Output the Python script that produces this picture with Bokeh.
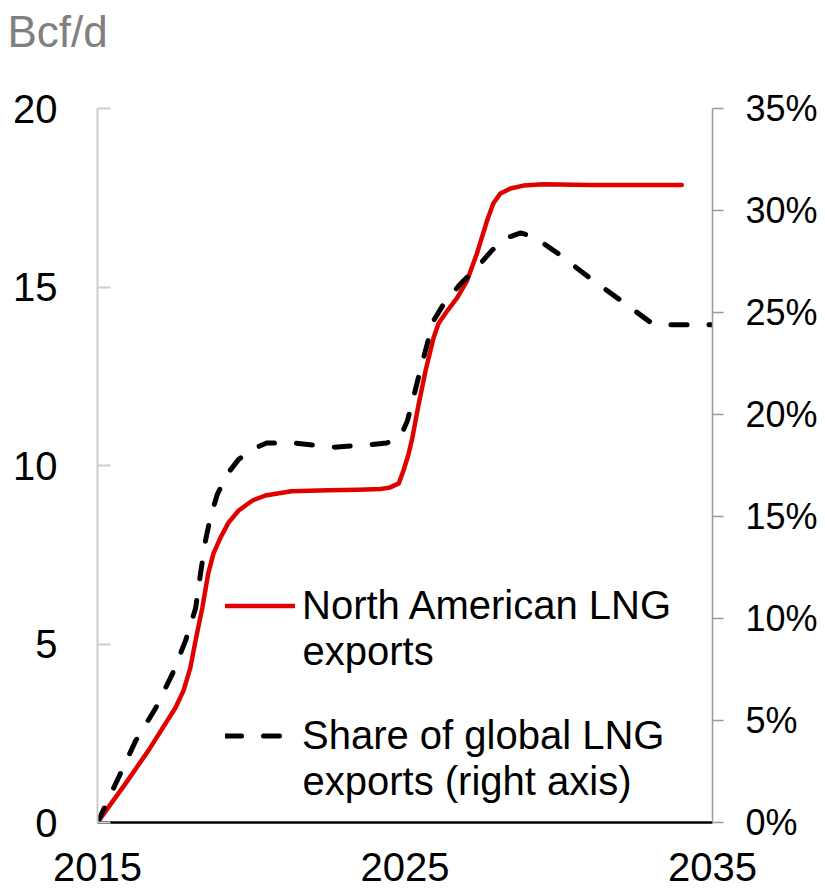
from bokeh.plotting import figure
from bokeh.models import (Range1d, LinearAxis, FixedTicker, PrintfTickFormatter,
                          Legend, LegendItem, Label, Title)
from bokeh.embed import file_html
from bokeh.resources import INLINE

# ---- data ----
years_exports = [2015, 2015.91, 2016.66, 2017.54, 2017.8, 2018.02, 2018.19, 2018.41,
                 2018.6, 2018.77, 2019.0, 2019.26, 2019.59, 2020.04, 2020.46, 2021.3,
                 2022.5, 2023.5, 2024.2, 2024.5, 2024.8, 2024.95, 2025.11, 2025.24,
                 2025.44, 2025.67, 2025.93, 2026.09, 2026.38, 2026.7, 2027.02, 2027.34,
                 2027.67, 2027.87, 2028.1, 2028.43, 2028.85, 2029.5, 2031.0, 2034.0]
na_lng_exports = [0, 1.09, 2.02, 3.22, 3.7, 4.34, 5.1, 6.02,
                  6.97, 7.53, 7.98, 8.4, 8.74, 9.02, 9.16, 9.28,
                  9.31, 9.32, 9.34, 9.38, 9.5, 9.86, 10.3, 10.78,
                  11.7, 12.66, 13.58, 13.98, 14.34, 14.7, 15.18, 15.94,
                  16.86, 17.34, 17.62, 17.76, 17.84, 17.88, 17.86, 17.86]

years_share = [2015, 2015.59, 2016.24, 2016.89, 2017.44, 2017.86, 2018.19, 2018.35,
               2018.51, 2018.67, 2018.9, 2019.23, 2019.59, 2020.04, 2020.5, 2021.4,
               2022.7, 2023.7, 2024.4, 2024.85, 2025.08, 2025.27, 2025.5, 2025.73,
               2025.93, 2026.25, 2026.8, 2027.34, 2027.8, 2028.2, 2028.76, 2029.2,
               2029.97, 2031.0, 2032.1, 2033.0, 2033.4, 2035.0]
share_global = [0, 1.9, 4.0, 5.6, 7.3, 8.9, 10.5, 12.2,
                13.8, 14.95, 16.1, 17.1, 17.8, 18.3, 18.6, 18.6,
                18.4, 18.5, 18.6, 18.9, 19.7, 20.8, 22.2, 23.5,
                24.6, 25.4, 26.4, 27.2, 28.0, 28.6, 28.9, 28.7,
                27.9, 26.7, 25.5, 24.5, 24.4, 24.4]

x_ticks = [2015, 2025, 2035]
left_ticks = [0, 5, 10, 15, 20]
right_ticks = [0, 5, 10, 15, 20, 25, 30, 35]

FONT = "Liberation Sans"
RED = "#e00000"

p = figure(width=825, height=892, output_backend="svg", toolbar_location=None,
           x_range=Range1d(2015, 2035), y_range=Range1d(0, 20),
           min_border_left=97, min_border_right=113, min_border_top=108,
           min_border_bottom=70, x_axis_location=None, y_axis_location=None)
p.outline_line_color = None
p.xgrid.visible = False
p.ygrid.visible = False
p.extra_y_ranges = {"share": Range1d(0, 35)}

# left axis
ly = LinearAxis(ticker=FixedTicker(ticks=left_ticks))
ly.axis_line_color = "#cccccc"
ly.axis_line_width = 2
ly.major_tick_line_color = "#cccccc"
ly.major_tick_line_width = 2
ly.major_tick_in = 13
ly.major_tick_out = 0
ly.minor_tick_line_color = None
ly.major_label_standoff = 40
ly.major_label_text_font = FONT
ly.major_label_text_font_size = "40px"
ly.major_label_text_color = "black"
p.add_layout(ly, "left")

# right axis
ry = LinearAxis(y_range_name="share", ticker=FixedTicker(ticks=right_ticks),
                formatter=PrintfTickFormatter(format="%d%%"))
ry.axis_line_color = "#999999"
ry.axis_line_width = 1.5
ry.major_tick_line_color = "#999999"
ry.major_tick_line_width = 1.5
ry.major_tick_in = 0
ry.major_tick_out = 11
ry.minor_tick_line_color = None
ry.major_label_standoff = 22
ry.major_label_text_font = FONT
ry.major_label_text_font_size = "36px"
ry.major_label_text_color = "black"
p.add_layout(ry, "right")

# bottom axis
bx = LinearAxis(ticker=FixedTicker(ticks=x_ticks))
bx.axis_line_color = "black"
bx.axis_line_width = 2.5
bx.major_tick_line_color = None
bx.minor_tick_line_color = None
bx.major_label_standoff = 24
bx.major_label_text_font = FONT
bx.major_label_text_font_size = "40px"
bx.major_label_text_color = "black"
p.add_layout(bx, "below")

# unit title (second, blank line reserves the space down to the frame)
t = Title(text="Bcf/d\n ", align="left", vertical_align="top", offset=-90, standoff=4,
          text_font=FONT, text_font_size="44px", text_color="#808080",
          text_font_style="normal")
p.add_layout(t, "above")

# series
r_red = p.line(years_exports, na_lng_exports, line_color=RED, line_width=4.5,
               line_join="round", line_cap="round")
r_share = p.line(years_share, share_global, y_range_name="share", line_color="black",
                 line_width=5, line_dash="16 22", line_cap="round", line_join="round")

legend = Legend(items=[LegendItem(label="North American LNG", renderers=[r_red]),
                       LegendItem(label="Share of global LNG", renderers=[r_share])],
                location=(128, 64), orientation="vertical",
                glyph_width=70, glyph_height=45, label_height=45, label_standoff=7,
                spacing=85, padding=0, margin=0,
                border_line_color=None, background_fill_alpha=0,
                label_text_font=FONT, label_text_font_size="40px",
                label_text_color="black")
p.add_layout(legend, "center")

for txt, yy in [("exports", 172), ("exports (right axis)", 42)]:
    p.add_layout(Label(x=205, y=yy, x_units="screen", y_units="screen", text=txt,
                       text_font=FONT, text_font_size="40px", text_color="black",
                       text_baseline="middle", text_align="left"))

open("out.html", "w").write(file_html(p, INLINE))
